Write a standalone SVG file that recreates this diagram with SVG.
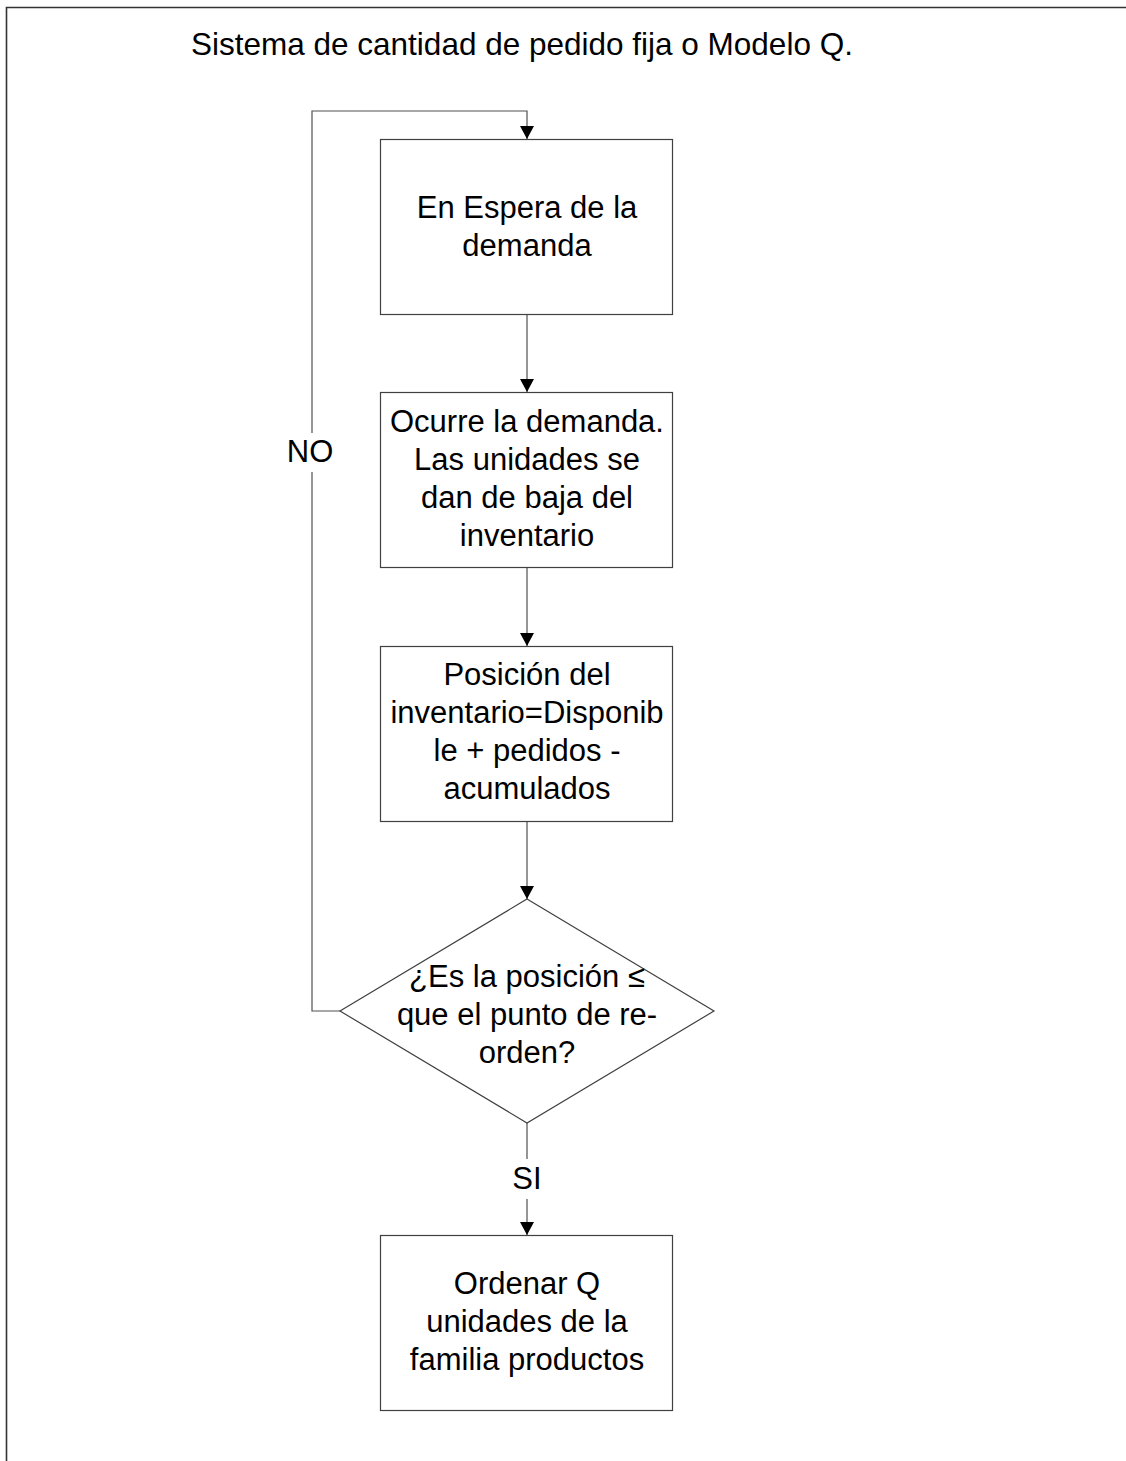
<svg xmlns="http://www.w3.org/2000/svg" width="1126" height="1461" viewBox="0 0 1126 1461">
<style>
text{font-family:"Liberation Sans",Arial,sans-serif;fill:#000;font-size:31px;text-anchor:middle}
.shape{fill:#fff;stroke:#404040;stroke-width:1.2}
.conn{fill:none;stroke:#505050;stroke-width:1.2}
</style>
<defs>
<marker id="arrow" markerUnits="userSpaceOnUse" markerWidth="14" markerHeight="14" refX="13" refY="7" orient="auto">
<path d="M0,0 L13,7 L0,14 z" fill="#000"/>
</marker>
</defs>
<rect width="1126" height="1461" fill="#fff"/>
<path d="M6.5,1461 V7.5 H1126" fill="none" stroke="#333" stroke-width="1.6"/>
<text x="191" y="55" style="text-anchor:start;font-size:31.5px">Sistema de cantidad de pedido fija o Modelo Q.</text>
<g id="connectors">
<path class="conn" d="M527,314 V392" marker-end="url(#arrow)"/>
<path class="conn" d="M527,568 V646" marker-end="url(#arrow)"/>
<path class="conn" d="M527,821 V899" marker-end="url(#arrow)"/>
<path class="conn" d="M527,1123 V1159"/>
<path class="conn" d="M527,1199 V1235" marker-end="url(#arrow)"/>
<text x="527" y="1189">SI</text>
<path class="conn" d="M340,1011 H312 V472"/>
<path class="conn" d="M312,433 V111 H527 V139" marker-end="url(#arrow)"/>
<text x="310" y="462">NO</text>
</g>
<g id="n1">
<rect class="shape" x="380.5" y="139.5" width="292" height="175"/>
<text x="527" y="218">En Espera de la</text>
<text x="527" y="256">demanda</text>
</g>
<g id="n2">
<rect class="shape" x="380.5" y="392.5" width="292" height="175"/>
<text x="527" y="432">Ocurre la demanda.</text>
<text x="527" y="470">Las unidades se</text>
<text x="527" y="508">dan de baja del</text>
<text x="527" y="546">inventario</text>
</g>
<g id="n3">
<rect class="shape" x="380.5" y="646.5" width="292" height="175"/>
<text x="527" y="685">Posición del</text>
<text x="527" y="723">inventario=Disponib</text>
<text x="527" y="761">le + pedidos -</text>
<text x="527" y="799">acumulados</text>
</g>
<g id="n4">
<polygon class="shape" points="527,899 714,1011 527,1123 340,1011"/>
<text x="527" y="987">¿Es la posición ≤</text>
<text x="527" y="1025">que el punto de re-</text>
<text x="527" y="1063">orden?</text>
</g>
<g id="n5">
<rect class="shape" x="380.5" y="1235.5" width="292" height="175"/>
<text x="527" y="1294">Ordenar Q</text>
<text x="527" y="1332">unidades de la</text>
<text x="527" y="1370">familia productos</text>
</g>
</svg>
